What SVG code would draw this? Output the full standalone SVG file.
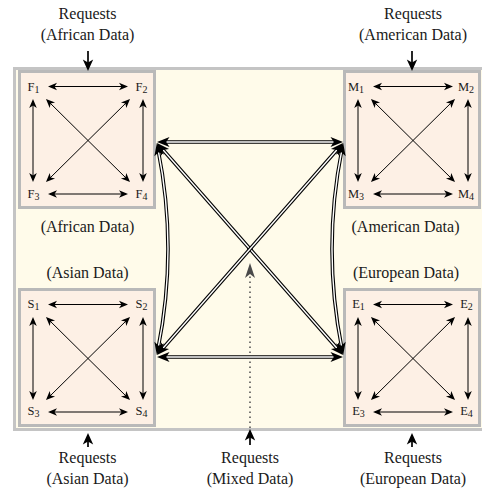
<svg xmlns="http://www.w3.org/2000/svg" width="482" height="489" viewBox="0 0 482 489">
  <defs>
    <style>
      .txt { font-family: "Liberation Serif", "DejaVu Serif", serif; font-size: 16px; fill: #1a1a1a; text-anchor: middle; }
      .lbl { font-family: "Liberation Serif", "DejaVu Serif", serif; font-size: 12.5px; fill: #1a1a1a; text-anchor: middle; }
      .sub { font-size: 10px; }
      .frame { fill: #fffbea; stroke: #c4c4c4; stroke-width: 3; }
      .box { fill: #fdf0e5; stroke: #b9b9b9; stroke-width: 3; }
      .thin { fill: none; stroke: #000; stroke-width: 1; marker-start: url(#head); marker-end: url(#head); }
      .req { fill: none; stroke: #000; stroke-width: 1.7; marker-end: url(#reqhead); }
      .dbl-out { fill: none; stroke: #000; stroke-width: 3.6; }
      .dbl-in { fill: none; stroke: #fff; stroke-width: 1.4; marker-start: url(#bighead); marker-end: url(#bighead); }
      .dots { fill: none; stroke: #555; stroke-width: 1.6; stroke-dasharray: 1.6 3.4; }
    </style>
    <marker id="head" markerUnits="userSpaceOnUse" viewBox="-8 -5 12 10" refX="0" refY="0" markerWidth="12" markerHeight="10" orient="auto-start-reverse" overflow="visible">
      <path d="M2,0 L-7,-3.8 L-4.5,0 L-7,3.8 Z" fill="#000"/>
    </marker>
    <marker id="reqhead" markerUnits="userSpaceOnUse" viewBox="-12 -6 16 12" refX="0" refY="0" markerWidth="16" markerHeight="12" orient="auto" overflow="visible">
      <path d="M2,0 L-9.5,-5.2 L-6.5,0 L-9.5,5.2 Z" fill="#000"/>
    </marker>
    <marker id="bighead" markerUnits="userSpaceOnUse" viewBox="-8 -6 16 12" refX="0" refY="0" markerWidth="16" markerHeight="12" orient="auto-start-reverse" overflow="visible">
      <path d="M6,0 L-6.5,-5 L-3.2,0 L-6.5,5 Z" fill="#000"/>
    </marker>
    <marker id="grayhead" markerUnits="userSpaceOnUse" viewBox="-14 -6 18 12" refX="0" refY="0" markerWidth="18" markerHeight="12" orient="auto" overflow="visible">
      <path d="M2,0 L-13,-5 L-9,0 L-13,5 Z" fill="#4a4a4a"/>
    </marker>
    <!-- four fully connected replicas inside one region box -->
    <g id="mesh">
      <rect x="1.5" y="1.5" width="135" height="136" class="box"/>
      <path class="thin" d="M32,16.5 H108"/>
      <path class="thin" d="M32,124 H108"/>
      <path class="thin" d="M15,31 V110"/>
      <path class="thin" d="M125,31 V110"/>
      <path class="thin" d="M29.4,30.4 L110.6,110.6"/>
      <path class="thin" d="M110.6,30.4 L29.4,110.6"/>
    </g>
  </defs>

  <!-- outer region -->
  <rect x="14.5" y="68.5" width="470" height="361" class="frame"/>

  <g id="africa" transform="translate(18,70)">
    <use href="#mesh"/>
    <text class="lbl" x="15.5" y="20.5">F<tspan class="sub" dy="2.5">1</tspan></text>
    <text class="lbl" x="123.5" y="20.5">F<tspan class="sub" dy="2.5">2</tspan></text>
    <text class="lbl" x="15.5" y="127.5">F<tspan class="sub" dy="2.5">3</tspan></text>
    <text class="lbl" x="123.5" y="127.5">F<tspan class="sub" dy="2.5">4</tspan></text>
  </g>

  <g id="america" transform="translate(343,70)">
    <use href="#mesh"/>
    <text class="lbl" x="13" y="20.5">M<tspan class="sub" dy="2.5">1</tspan></text>
    <text class="lbl" x="123" y="20.5">M<tspan class="sub" dy="2.5">2</tspan></text>
    <text class="lbl" x="13" y="127.5">M<tspan class="sub" dy="2.5">3</tspan></text>
    <text class="lbl" x="123" y="127.5">M<tspan class="sub" dy="2.5">4</tspan></text>
  </g>

  <g id="asia" transform="translate(18,288)">
    <use href="#mesh"/>
    <text class="lbl" x="15.5" y="19.5">S<tspan class="sub" dy="2.5">1</tspan></text>
    <text class="lbl" x="123.5" y="19.5">S<tspan class="sub" dy="2.5">2</tspan></text>
    <text class="lbl" x="15.5" y="126.5">S<tspan class="sub" dy="2.5">3</tspan></text>
    <text class="lbl" x="123.5" y="126.5">S<tspan class="sub" dy="2.5">4</tspan></text>
  </g>

  <g id="europe" transform="translate(343,288)">
    <use href="#mesh"/>
    <text class="lbl" x="15.5" y="19.5">E<tspan class="sub" dy="2.5">1</tspan></text>
    <text class="lbl" x="123.5" y="19.5">E<tspan class="sub" dy="2.5">2</tspan></text>
    <text class="lbl" x="15.5" y="126.5">E<tspan class="sub" dy="2.5">3</tspan></text>
    <text class="lbl" x="123.5" y="126.5">E<tspan class="sub" dy="2.5">4</tspan></text>
  </g>

  <!-- region captions -->
  <g id="captions">
    <text class="txt" x="87.5" y="232">(African Data)</text>
    <text class="txt" x="405.5" y="232">(American Data)</text>
    <text class="txt" x="87.5" y="278">(Asian Data)</text>
    <text class="txt" x="406" y="278">(European Data)</text>
  </g>

  <!-- request sources -->
  <g id="req-africa">
    <text class="txt" x="87.5" y="19">Requests</text>
    <text class="txt" x="87.5" y="40">(African Data)</text>
  </g>
  <g id="req-america">
    <text class="txt" x="413" y="19">Requests</text>
    <text class="txt" x="413" y="40">(American Data)</text>
  </g>
  <g id="req-asia">
    <text class="txt" x="87.5" y="463">Requests</text>
    <text class="txt" x="87.5" y="484">(Asian Data)</text>
  </g>
  <g id="req-mixed">
    <text class="txt" x="250" y="463">Requests</text>
    <text class="txt" x="250" y="484">(Mixed Data)</text>
  </g>
  <g id="req-europe">
    <text class="txt" x="413" y="463">Requests</text>
    <text class="txt" x="413" y="484">(European Data)</text>
  </g>

  <!-- hub node -->
  <g id="hub">
    <circle cx="250" cy="249" r="2.6" fill="#000"/>
  </g>

  <!-- connectors -->
  <g id="connectors">
    <path class="req" d="M88,51 V69"/>
    <path class="req" d="M412,51 V69"/>
    <path class="req" d="M88,447 V435"/>
    <path class="req" d="M412,447 V435"/>
    <path class="req" d="M250,445 V431"/>

    <path class="dots" d="M250,428 V265" marker-end="url(#grayhead)"/>

    <path class="dbl-out" d="M163,142 H337"/>
    <path class="dbl-in" d="M163,142 H337"/>
    <path class="dbl-out" d="M163,357 H337"/>
    <path class="dbl-in" d="M163,357 H337"/>
    <path class="dbl-out" d="M161,147.5 L339,350.5"/>
    <path class="dbl-in" d="M161,147.5 L339,350.5"/>
    <path class="dbl-out" d="M339,147.5 L161,350.5"/>
    <path class="dbl-in" d="M339,147.5 L161,350.5"/>
    <path class="dbl-out" d="M158,149 Q178,249 158,349"/>
    <path class="dbl-in" d="M158,149 Q178,249 158,349"/>
    <path class="dbl-out" d="M342,149 Q322,249 342,349"/>
    <path class="dbl-in" d="M342,149 Q322,249 342,349"/>
  </g>
</svg>
